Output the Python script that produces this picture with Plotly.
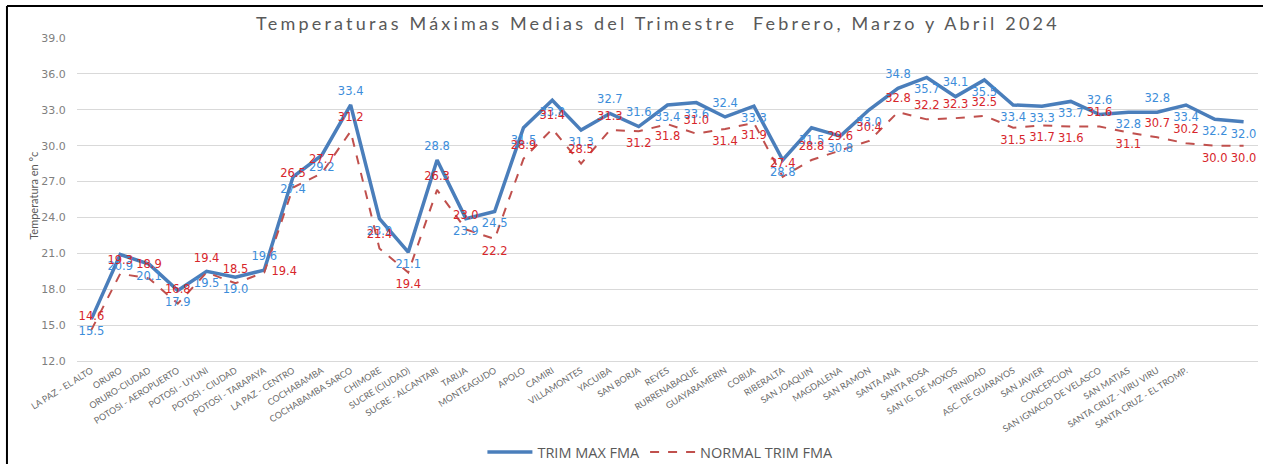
import plotly.graph_objects as go

# Estaciones (las dos últimas posiciones no tienen nombre en el eje)
estaciones = [
    "LA PAZ - EL ALTO", "ORURO", "ORURO-CIUDAD", "POTOSI - AEROPUERTO",
    "POTOSI - UYUNI", "POTOSI - CIUDAD", "POTOSI - TARAPAYA", "LA PAZ - CENTRO",
    "COCHABAMBA", "COCHABAMBA SARCO", "CHIMORE", "SUCRE (CIUDAD)",
    "SUCRE - ALCANTARI", "TARIJA", "MONTEAGUDO", "APOLO", "CAMIRI",
    "VILLAMONTES", "YACUIBA", "SAN BORJA", "REYES", "RURRENABAQUE",
    "GUAYARAMERIN", "COBIJA", "RIBERALTA", "SAN JOAQUIN", "MAGDALENA",
    "SAN RAMON", "SANTA ANA", "SANTA ROSA", "SAN IG. DE MOXOS", "TRINIDAD",
    "ASC. DE GUARAYOS", "SAN JAVIER", "CONCEPCION", "SAN IGNACIO DE VELASCO",
    "SAN MATIAS", "SANTA CRUZ - VIRU VIRU", "SANTA CRUZ - EL TROMP.", "", "",
]

trim_max_fma = [
    15.5, 20.9, 20.1, 17.9, 19.5, 19.0, 19.6, 27.4, 29.2, 33.4,
    23.9, 21.1, 28.8, 23.9, 24.5, 31.5, 33.8, 31.3, 32.7, 31.6,
    33.4, 33.6, 32.4, 33.3, 28.8, 31.5, 30.8, 33.0, 34.8, 35.7,
    34.1, 35.5, 33.4, 33.3, 33.7, 32.6, 32.8, 32.8, 33.4, 32.2, 32.0,
]

normal_trim_fma = [
    14.6, 19.3, 18.9, 16.8, 19.4, 18.5, 19.4, 26.5, 27.7, 31.2,
    21.4, 19.4, 26.3, 23.0, 22.2, 28.9, 31.4, 28.5, 31.3, 31.2,
    31.8, 31.0, 31.4, 31.9, 27.4, 28.8, 29.6, 30.4, 32.8, 32.2,
    32.3, 32.5, 31.5, 31.7, 31.6, 31.6, 31.1, 30.7, 30.2, 30.0, 30.0,
]

y_ticks = [12.0, 15.0, 18.0, 21.0, 24.0, 27.0, 30.0, 33.0, 36.0, 39.0]

# Posición de las etiquetas de datos (arriba / abajo de cada punto)
pos_max = [
    "bottom", "bottom", "bottom", "bottom", "bottom", "bottom", "top", "bottom", "bottom", "top",
    "bottom", "bottom", "top", "bottom", "bottom", "bottom", "bottom", "bottom", "top", "top",
    "bottom", "bottom", "top", "bottom", "bottom", "bottom", "bottom", "bottom", "top", "bottom",
    "top", "bottom", "bottom", "bottom", "bottom", "top", "bottom", "top", "bottom", "bottom", "bottom",
]
pos_normal = [
    "top", "top", "top", "top", "top", "top", "right", "top", "top", "top",
    "top", "bottom", "top", "top", "bottom", "top", "top", "top", "top", "bottom",
    "bottom", "top", "bottom", "bottom", "top", "top", "top", "top", "top", "top",
    "top", "top", "bottom", "bottom", "bottom", "top", "bottom", "top", "top", "bottom", "bottom",
]


def pos_full(p):
    return p + " center" if p in ("top", "bottom") else "middle " + p


x = list(range(len(estaciones)))
gris = "#595959"

series = [
    ("TRIM MAX FMA", trim_max_fma, pos_max, dict(color="#4A7EBB", width=3.5), "#3C8DDA"),
    ("NORMAL TRIM FMA", normal_trim_fma, pos_normal,
     dict(color="#C0504D", width=2, dash="dash"), "#D7262B"),
]

fig = go.Figure()

# Líneas (con leyenda)
for nombre, valores, _, estilo, _ in series:
    fig.add_trace(go.Scatter(
        x=x, y=valores, name=nombre, mode="lines", line=estilo,
    ))

# Etiquetas de datos (marcadores invisibles para separar el texto de la línea)
for nombre, valores, posiciones, _, color_txt in series:
    fig.add_trace(go.Scatter(
        x=x, y=valores, name=nombre, mode="markers+text", showlegend=False,
        marker=dict(size=10, opacity=0),
        text=[f"{v:.1f}" for v in valores],
        textposition=[pos_full(p) for p in posiciones],
        textfont=dict(family="DejaVu Sans", size=11.5, color=color_txt),
        hoverinfo="skip",
    ))

# Marco del gráfico (borde superior e izquierdo)
fig.add_shape(type="line", xref="paper", yref="paper",
              x0=-0.0593, x1=1.01, y0=1.099, y1=1.099,
              line=dict(color="black", width=2))
fig.add_shape(type="line", xref="paper", yref="paper",
              x0=-0.0593, x1=-0.0593, y0=1.099, y1=-0.33,
              line=dict(color="black", width=2))

fig.add_annotation(
    text="Temperatura en °c", textangle=-90, showarrow=False,
    xref="paper", yref="paper", x=-0.044, y=0.51,
    font=dict(family="Liberation Sans Narrow, Lato", size=11, color=gris),
)

titulo = "Temperaturas Máximas Medias del Trimestre  Febrero, Marzo y Abril 2024"

fig.update_layout(
    width=1263, height=464,
    margin=dict(l=77, r=5, t=38, b=103, autoexpand=False),
    paper_bgcolor="white", plot_bgcolor="white",
    title=dict(
        text=f'<span style="letter-spacing:3.2px">{titulo}</span>',
        x=0.521, xanchor="center", y=0.948, yanchor="middle",
        font=dict(family="Lato", size=18, color=gris),
    ),
    showlegend=True,
    legend=dict(
        orientation="h", x=0.494, xanchor="center", y=-0.282, yanchor="middle",
        font=dict(family="Open Sans", size=14.5, color=gris),
        itemwidth=45, traceorder="normal",
    ),
    xaxis=dict(
        tickmode="array", tickvals=x, ticktext=estaciones,
        range=[-0.5, len(estaciones) - 0.5],
        tickangle=-32, showgrid=False, zeroline=False,
        showline=True, linecolor="#d9d9d9", linewidth=1,
        tickfont=dict(family="Liberation Sans Narrow, Lato", size=9, color="#6a6a6a"),
        ticks="",
    ),
    yaxis=dict(
        range=[12, 39], tickmode="array", tickvals=y_ticks,
        ticktext=[f"{v:.1f}" for v in y_ticks],
        showgrid=True, gridcolor="#d9d9d9", gridwidth=1, zeroline=False,
        tickfont=dict(family="DejaVu Sans", size=11, color="#7f7f7f"),
        ticks="outside", ticklen=8, tickcolor="white",
    ),
)

fig.write_html("out.html")
